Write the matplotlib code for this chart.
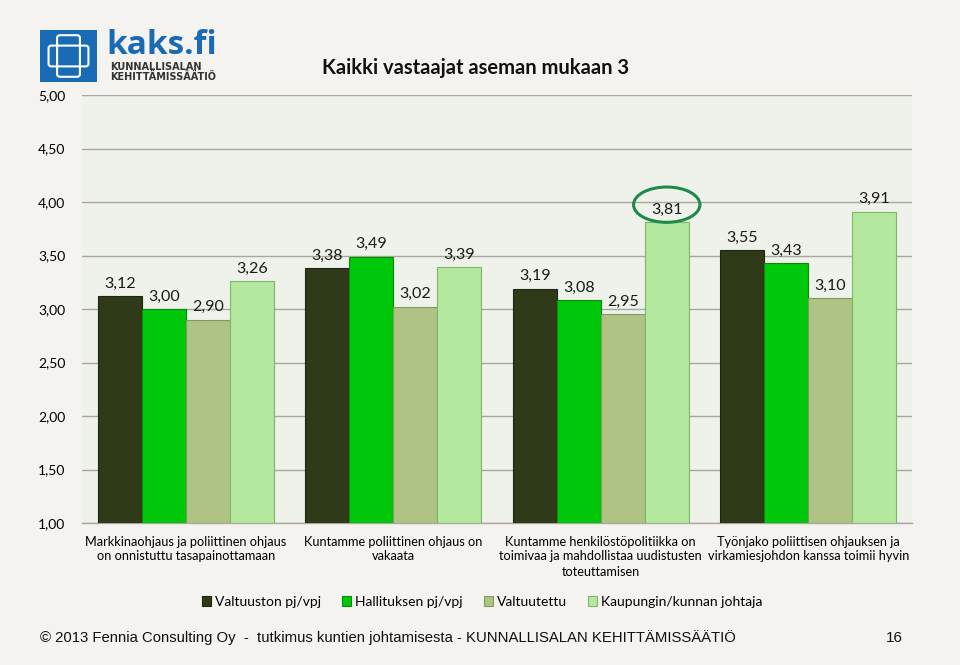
import matplotlib
matplotlib.use("Agg")
import matplotlib.pyplot as plt
import numpy as np
from matplotlib.patches import Ellipse, Rectangle, FancyBboxPatch

categories = [
    "Markkinaohjaus ja poliittinen ohjaus\non onnistuttu tasapainottamaan",
    "Kuntamme poliittinen ohjaus on\nvakaata",
    "Kuntamme henkilöstöpolitiikka on\ntoimivaa ja mahdollistaa uudistusten\ntoteuttamisen",
    "Työnjako poliittisen ohjauksen ja\nvirkamiesjohdon kanssa toimii hyvin",
]
series_names = ["Valtuuston pj/vpj", "Hallituksen pj/vpj", "Valtuutettu", "Kaupungin/kunnan johtaja"]
valtuuston = [3.12, 3.38, 3.19, 3.55]
hallituksen = [3.00, 3.49, 3.08, 3.43]
valtuutettu = [2.90, 3.02, 2.95, 3.10]
johtaja = [3.26, 3.39, 3.81, 3.91]
yticks = [1.0, 1.5, 2.0, 2.5, 3.0, 3.5, 4.0, 4.5, 5.0]

colors = ["#2f3a19", "#00c80a", "#aec384", "#b4e89e"]
edges = ["#1e2610", "#0a8a0a", "#7f9a5a", "#7fb56a"]

plt.rcParams['font.family'] = ['Lato', 'DejaVu Sans']

fig = plt.figure(figsize=(9.6, 6.65), dpi=100)
fig.patch.set_facecolor("#f5f3ef")
ax = fig.add_axes([82/960, 1-523/665, 830/960, 428/665])
ax.set_facecolor("#eff2ea")

data = [valtuuston, hallituksen, valtuutettu, johtaja]
x = np.arange(len(categories))
bw = 0.212
for i, (vals, c, e) in enumerate(zip(data, colors, edges)):
    pos = x + (i - 1.5) * bw
    ax.bar(pos, np.array(vals) - 1.0, bw, bottom=1.0, color=c, edgecolor=e,
           linewidth=0.8, zorder=3, label=series_names[i])
    for p, v in zip(pos, vals):
        ax.annotate(f"{v:.2f}".replace(".", ","), (p, v), xytext=(0, 4),
                    textcoords="offset points", ha="center", va="bottom",
                    fontsize=11.5, color="#1a1a1a", zorder=4)

ax.set_xlim(-0.5, 3.5)
ax.set_ylim(1.0, 5.0)
ax.set_yticks(yticks)
ax.set_yticklabels([f"{t:.2f}".replace(".", ",") for t in yticks], fontsize=10)
ax.yaxis.grid(True, color="#a8a8a0", linewidth=1.0, zorder=0)
ax.set_axisbelow(True)
ax.tick_params(axis="y", length=0, pad=12)
ax.tick_params(axis="x", length=0, pad=9)
ax.set_xticks(x)
ax.set_xticklabels(categories, fontsize=9.2, linespacing=1.3)
for s in ["top", "right", "left"]:
    ax.spines[s].set_visible(False)
ax.spines["bottom"].set_color("#a8a8a0")
ax.spines["bottom"].set_linewidth(1.0)

# highlight ellipse around 3,81
ax.add_patch(Ellipse((2 + 1.5 * bw, 3.81 + 0.165), 0.32, 0.33, fill=False,
                     edgecolor="#1e8a4a", linewidth=2.2, zorder=5, clip_on=False))

leg = fig.legend(loc="center", bbox_to_anchor=(482/960, 1-602/665), ncol=4, frameon=False,
                 fontsize=10, handlelength=0.65, handleheight=0.65, handletextpad=0.3,
                 columnspacing=1.5)

# Title
fig.text(322/960, 1-68/665, "Kaikki vastaajat aseman mukaan 3", fontsize=14.5,
         fontweight="bold", ha="left", va="center", color="#111111")

# Logo
lax = fig.add_axes([40/960, 1-82/665, 57/960, 52/665])
lax.set_xlim(0, 1); lax.set_ylim(0, 1); lax.axis("off")
lax.add_patch(Rectangle((0, 0), 1, 1, color="#1a6bb5"))
lax.add_patch(FancyBboxPatch((0.2, 0.35), 0.6, 0.3, boxstyle="round,pad=0.05",
                             fill=False, edgecolor="white", linewidth=1.5))
lax.add_patch(FancyBboxPatch((0.35, 0.15), 0.3, 0.7, boxstyle="round,pad=0.05",
                             fill=False, edgecolor="white", linewidth=1.5))
fig.text(106/960, 1-45/665, "kaks.fi", fontsize=24, color="#1a6bb5",
         fontweight="bold", ha="left", va="center", family=["Open Sans", "DejaVu Sans"])
fig.text(110/960, 1-72/665, "KUNNALLISALAN\nKEHITTÄMISSÄÄTIÖ", fontsize=7, color="#333333",
         fontweight="bold", ha="left", va="center", linespacing=1.05,
         family=["DejaVu Sans"])

# Footer
fig.text(40/960, 1-638/665, "© 2013 Fennia Consulting Oy  -  tutkimus kuntien johtamisesta - KUNNALLISALAN KEHITTÄMISSÄÄTIÖ",
         fontsize=10.7, ha="left", va="center", family=["Liberation Sans", "DejaVu Sans"],
         color="#111111")
fig.text(894/960, 1-638/665, "16", fontsize=11, ha="center", va="center",
         family=["Liberation Sans", "DejaVu Sans"], color="#111111")

fig.savefig("out.png", dpi=100, facecolor=fig.get_facecolor())
